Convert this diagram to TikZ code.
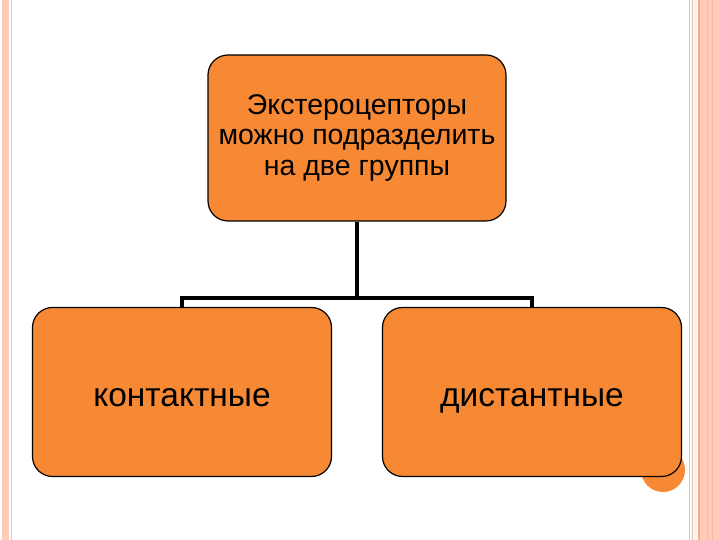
\documentclass[tikz,border=0pt]{standalone}
\usepackage{fontspec}
\setmainfont{Liberation Sans}
\definecolor{boxorange}{RGB}{247,137,52}
\definecolor{stripepeach}{RGB}{255,203,184}
\definecolor{stripetan}{RGB}{228,200,186}
\definecolor{stripedark}{RGB}{246,172,140}
\definecolor{stripecream}{RGB}{255,244,232}
\begin{document}
\begin{tikzpicture}[x=1pt, y=1pt,
    nodes={draw=black, fill=boxorange, rounded corners=20pt, line width=1.2pt, align=center},
    edge from parent/.style={draw, line width=4pt},
    edge from parent path={(\tikzparentnode.south) -- ++(0,-76) -| (\tikzchildnode.north)},
    level distance=254pt, sibling distance=350pt]
    % page and side stripes
    \useasboundingbox[fill=white] (0,0) rectangle (720,540);
    \fill[stripepeach] (2,0) rectangle (9,540);
    \draw[stripetan, line width=0.6pt] (11,0) -- (11,540);
    \draw[stripetan, line width=1pt] (689.5,0) -- (689.5,540);
    \fill[stripecream] (691,0) rectangle (697,540);
    \draw[stripetan, line width=1pt] (692.5,0) -- (692.5,540);
    \fill[stripepeach] (698,0) rectangle (720,540);
    \draw[stripedark, line width=2pt] (699,0) -- (699,540);
    \draw[stripedark!60!stripepeach, line width=0.6pt] (707,0) -- (707,540);
    \draw[stripedark!60!stripepeach, line width=0.6pt] (712,0) -- (712,540);
    % corner disc
    \fill[boxorange] (663,70) circle (22);
    % Tree structure
    \node (receptors) [minimum width=298pt, minimum height=166pt,
        font=\fontsize{28.5}{30.5}\selectfont] at (357,402)
        {Экстероцепторы\\можно подразделить\\на две группы}
        child { node (contact) [minimum width=299pt, minimum height=169pt,
            text height=33pt, text depth=3pt,
            font=\fontsize{33.5}{36}\selectfont] {контактные} }
        child { node (distant) [minimum width=299pt, minimum height=169pt,
            text height=33pt, text depth=3pt,
            font=\fontsize{33.5}{36}\selectfont] {дистантные} };
\end{tikzpicture}
\end{document}
